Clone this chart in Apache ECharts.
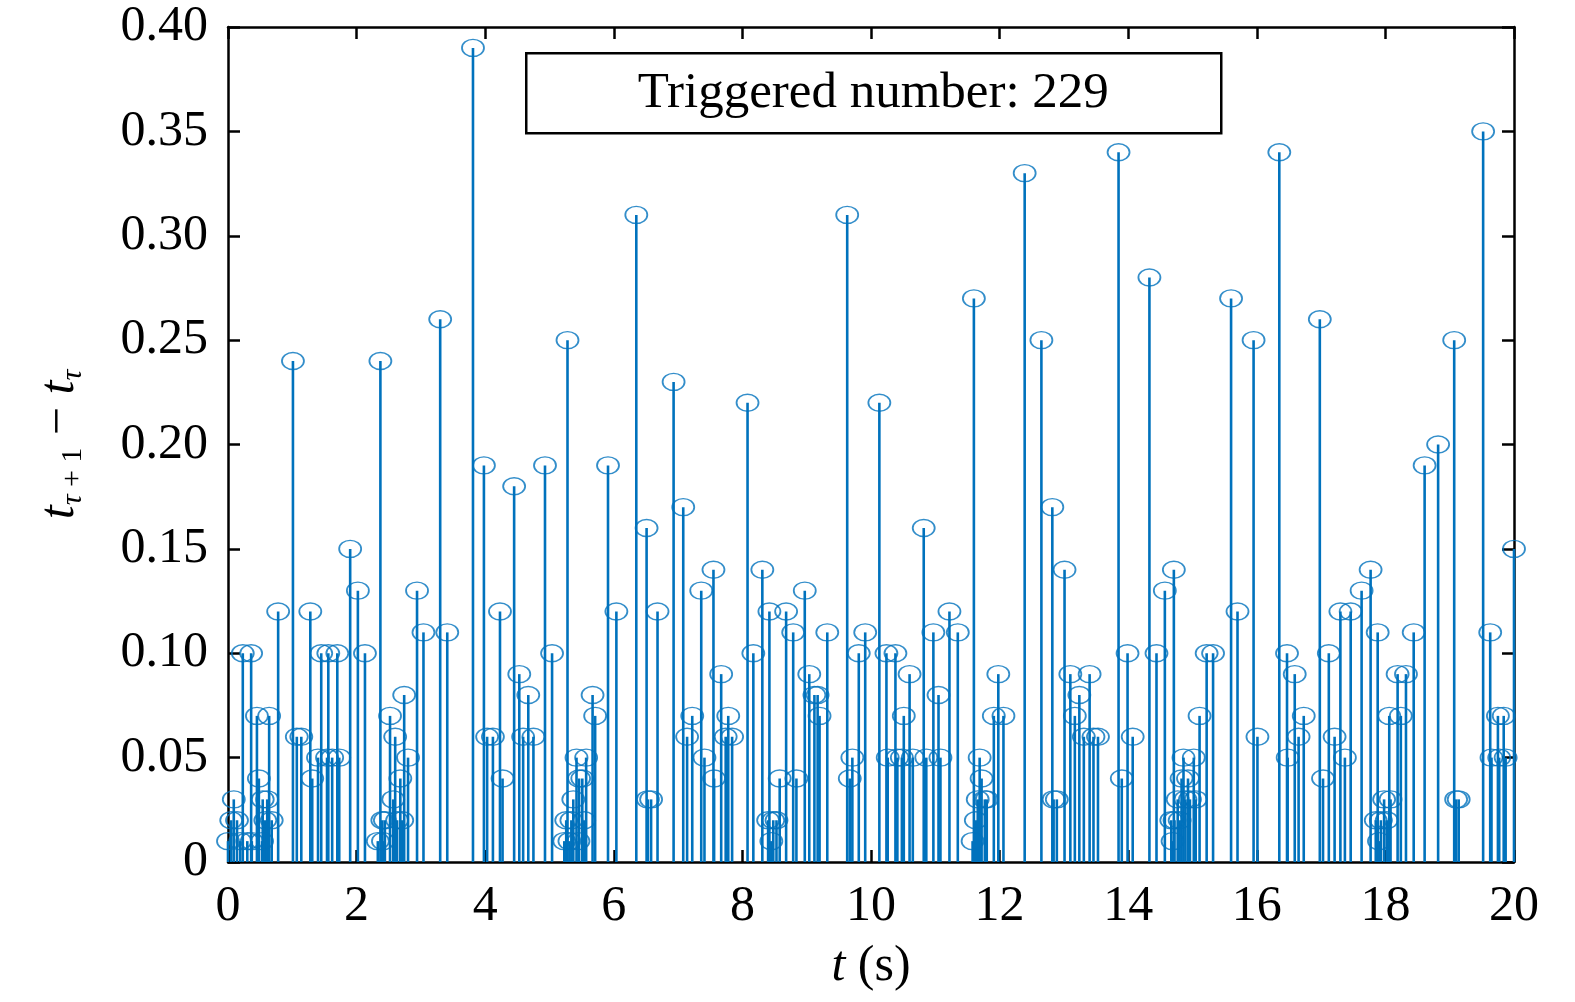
<!DOCTYPE html>
<html lang="en">
<head>
    <meta charset="UTF-8"/>
    <title>Triggered intervals</title>
    <style>
        * {
            padding: 0;
            margin: 0;
        }

        body {
            background-color: white;
        }

        #chart {
            width: 1575px;
            height: 1002px;
        }
    </style>
    <script src="https://cdn.jsdelivr.net/npm/echarts@6/dist/echarts.min.js"></script>
</head>
<body>
<div id="chart"></div>
<script>
    // trigger instants t (s)
    const triggerTimes = [
        0.00, 0.05, 0.09, 0.14, 0.19, 0.23, 0.30, 0.36, 0.37, 0.45, 0.48, 0.53, 0.54, 0.58, 0.61, 0.64, 0.68, 0.78,
        1.01, 1.07, 1.14, 1.28, 1.31, 1.40, 1.45, 1.54, 1.56, 1.62, 1.70, 1.73, 1.90,
        2.02, 2.13, 2.33, 2.37, 2.40, 2.41, 2.44, 2.52, 2.57, 2.60, 2.63, 2.68, 2.71, 2.74, 2.80, 2.94,
        3.04, 3.30, 3.41, 3.81, 3.98,
        4.03, 4.12, 4.23, 4.27, 4.45, 4.53, 4.59, 4.67, 4.75, 4.93,
        5.04, 5.23, 5.26, 5.28, 5.31, 5.34, 5.37, 5.42, 5.45, 5.46, 5.51, 5.54, 5.57, 5.67, 5.71, 5.91,
        6.04, 6.35, 6.51, 6.53, 6.58, 6.68, 6.93,
        7.08, 7.14, 7.22, 7.36, 7.41, 7.55, 7.56, 7.67, 7.74, 7.78, 7.84,
        8.08, 8.17, 8.31, 8.40, 8.42, 8.45, 8.48, 8.53, 8.58, 8.68, 8.79, 8.84, 8.97,
        9.04, 9.12, 9.17, 9.20, 9.32, 9.63, 9.67, 9.71, 9.81, 9.91,
        10.13, 10.24, 10.26, 10.38, 10.41, 10.48, 10.51, 10.60, 10.65, 10.82, 10.86, 10.97,
        11.05, 11.08, 11.22, 11.35, 11.58, 11.60, 11.63, 11.66, 11.69, 11.72, 11.77, 11.80, 11.91, 11.98,
        12.06, 12.39, 12.65, 12.82, 12.84, 12.89,
        13.01, 13.10, 13.17, 13.24, 13.31, 13.40, 13.46, 13.53, 13.85, 13.90, 13.99,
        14.07, 14.33, 14.44, 14.57, 14.67, 14.69, 14.71, 14.72, 14.77, 14.80, 14.83, 14.86, 14.89, 14.93, 14.96,
        15.02, 15.05, 15.11, 15.22, 15.32, 15.60, 15.70, 15.95,
        16.01, 16.35, 16.47, 16.48, 16.59, 16.65, 16.73, 16.98,
        17.03, 17.12, 17.21, 17.30, 17.37, 17.46, 17.63, 17.77, 17.85, 17.88, 17.90, 17.93, 17.98,
        18.02, 18.06, 18.08, 18.19, 18.24, 18.32, 18.44, 18.61, 18.82,
        19.07, 19.10, 19.14, 19.52, 19.63, 19.65, 19.75, 19.77, 19.84, 19.87,
        20.00
    ]

    // inter-event interval t_{τ+1} - t_τ
    const triggerGaps = [
        0.01, 0.02, 0.03, 0.02, 0.01, 0.10, 0.01, 0.10, 0.01, 0.07, 0.04, 0.01, 0.03, 0.02, 0.03, 0.07, 0.02, 0.12,
        0.24, 0.06, 0.06, 0.12, 0.04, 0.05, 0.10, 0.05, 0.10, 0.05, 0.10, 0.05, 0.15,
        0.13, 0.10, 0.01, 0.24, 0.02, 0.01, 0.02, 0.07, 0.03, 0.06, 0.02, 0.04, 0.02, 0.08, 0.05, 0.13,
        0.11, 0.26, 0.11, 0.39, 0.19,
        0.06, 0.06, 0.12, 0.04, 0.18, 0.09, 0.06, 0.08, 0.06, 0.19,
        0.10, 0.01, 0.02, 0.25, 0.01, 0.02, 0.03, 0.05, 0.01, 0.04, 0.04, 0.02, 0.05, 0.08, 0.07, 0.19,
        0.12, 0.31, 0.16, 0.03, 0.03, 0.12, 0.23,
        0.17, 0.06, 0.07, 0.13, 0.05, 0.14, 0.04, 0.09, 0.06, 0.07, 0.06,
        0.22, 0.10, 0.14, 0.02, 0.12, 0.01, 0.02, 0.02, 0.04, 0.12, 0.11, 0.04, 0.13,
        0.09, 0.08, 0.08, 0.07, 0.11, 0.31, 0.04, 0.05, 0.10, 0.11,
        0.22, 0.10, 0.05, 0.10, 0.05, 0.05, 0.07, 0.09, 0.05, 0.16, 0.05, 0.11,
        0.08, 0.05, 0.12, 0.11, 0.01, 0.27, 0.02, 0.03, 0.05, 0.04, 0.03, 0.03, 0.07, 0.09,
        0.07, 0.33, 0.25, 0.17, 0.03, 0.03,
        0.14, 0.09, 0.07, 0.08, 0.06, 0.09, 0.06, 0.06, 0.34, 0.04, 0.10,
        0.06, 0.28, 0.10, 0.13, 0.02, 0.01, 0.14, 0.02, 0.03, 0.02, 0.04, 0.05, 0.03, 0.04, 0.03,
        0.05, 0.03, 0.07, 0.10, 0.10, 0.27, 0.12, 0.25,
        0.06, 0.34, 0.10, 0.05, 0.09, 0.06, 0.07, 0.26,
        0.04, 0.10, 0.06, 0.12, 0.05, 0.12, 0.13, 0.14, 0.02, 0.11, 0.01, 0.02, 0.03,
        0.02, 0.07, 0.03, 0.09, 0.07, 0.09, 0.11, 0.19, 0.20,
        0.25, 0.03, 0.03, 0.35, 0.11, 0.05, 0.07, 0.05, 0.07, 0.05,
        0.15
    ]

    const triggeredCount = 229

    const stemColor = '#0072BD'
    const serif = '"Liberation Serif", "Times New Roman", serif'

    const stemData = triggerTimes.map((t, i) => [t, triggerGaps[i]])

    const chart = echarts.init(document.getElementById('chart'))

    const boxAxis = {
        axisLine: {show: true, onZero: false, lineStyle: {color: '#000', width: 2.5}},
        axisTick: {show: true, inside: true, length: 12, lineStyle: {color: '#000', width: 2.5}},
        splitLine: {show: false}
    }

    chart.setOption({
        animation: false,
        grid: {left: 228, right: 61, top: 27, bottom: 140},
        xAxis: [{
            type: 'value',
            min: 0,
            max: 20,
            interval: 2,
            position: 'bottom',
            ...boxAxis,
            axisLabel: {color: '#000', fontSize: 50, fontFamily: serif, margin: 20},
            name: '{it|t}{up| (s)}',
            nameLocation: 'middle',
            nameGap: 80,
            nameTextStyle: {
                rich: {
                    it: {fontSize: 50, fontFamily: serif, fontStyle: 'italic', color: '#000'},
                    up: {fontSize: 50, fontFamily: serif, color: '#000'}
                }
            }
        }, {
            type: 'value',
            min: 0,
            max: 20,
            interval: 2,
            position: 'top',
            ...boxAxis,
            axisLabel: {show: false}
        }],
        yAxis: [{
            type: 'value',
            min: 0,
            max: 0.4,
            interval: 0.05,
            position: 'left',
            ...boxAxis,
            axisLabel: {
                color: '#000', fontSize: 50, fontFamily: serif, margin: 20,
                formatter: v => v === 0 ? '0' : v.toFixed(2)
            },
            name: '{it|t}{subi|τ}{sub| + 1}{op| − }{it|t}{subi|τ}',
            nameLocation: 'middle',
            nameRotate: 90,
            nameGap: 140,
            nameTextStyle: {
                rich: {
                    it: {fontSize: 50, lineHeight: 56, fontFamily: serif, fontStyle: 'italic', color: '#000'},
                    op: {fontSize: 50, lineHeight: 56, fontFamily: serif, color: '#000'},
                    subi: {fontSize: 30, lineHeight: 22, verticalAlign: 'bottom', fontFamily: serif, fontStyle: 'italic', color: '#000'},
                    sub: {fontSize: 30, lineHeight: 22, verticalAlign: 'bottom', fontFamily: serif, color: '#000'}
                }
            }
        }, {
            type: 'value',
            min: 0,
            max: 0.4,
            interval: 0.05,
            position: 'right',
            ...boxAxis,
            axisLabel: {show: false}
        }],
        series: [{
            type: 'custom',
            name: 'stems',
            data: stemData,
            clip: false,
            renderItem: (params, api) => {
                const base = api.coord([api.value(0), 0])
                const top = api.coord([api.value(0), api.value(1)])
                return {
                    type: 'line',
                    shape: {x1: base[0], y1: base[1], x2: top[0], y2: top[1]},
                    style: {stroke: stemColor, lineWidth: 2.6}
                }
            }
        }, {
            type: 'scatter',
            name: 'markers',
            data: stemData,
            clip: false,
            symbol: 'circle',
            symbolSize: [22, 17],
            itemStyle: {color: 'rgba(0,0,0,0)', borderColor: stemColor, borderWidth: 1.6}
        }],
        graphic: [{
            type: 'group',
            left: 525,
            top: 52,
            z: 100,
            children: [{
                type: 'rect',
                shape: {x: 0, y: 0, width: 695, height: 80},
                style: {fill: '#fff', stroke: '#000', lineWidth: 2.5}
            }, {
                type: 'text',
                x: 347,
                y: 40,
                style: {
                    text: 'Triggered number: ' + triggeredCount,
                    fontSize: 51,
                    fontFamily: serif,
                    fill: '#000',
                    align: 'center',
                    verticalAlign: 'middle'
                }
            }]
        }]
    })
</script>
</body>
</html>
